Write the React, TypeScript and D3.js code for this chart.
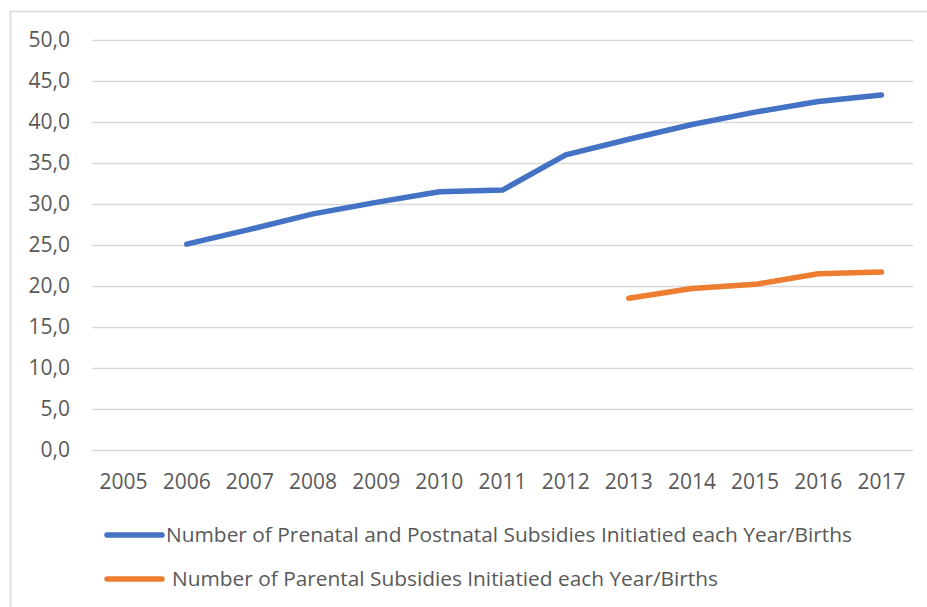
import React, { useEffect, useRef } from "react";
import * as d3 from "d3";

// chart data
const YEARS = ["2005", "2006", "2007", "2008", "2009", "2010", "2011", "2012", "2013", "2014", "2015", "2016", "2017"];
const PRENATAL: (number | null)[] = [null, 25.1, 26.9, 28.8, 30.2, 31.5, 31.7, 36.0, 37.9, 39.7, 41.2, 42.5, 43.3];
const PARENTAL: (number | null)[] = [null, null, null, null, null, null, null, null, 18.5, 19.7, 20.2, 21.5, 21.7];
const Y_TICKS = [0, 5, 10, 15, 20, 25, 30, 35, 40, 45, 50];
const SERIES_NAMES = [
  "Number of Prenatal and Postnatal Subsidies Initiatied each Year/Births",
  "Number of Parental Subsidies Initiatied each Year/Births",
];

const W = 927;
const H = 607;
const FONT = "'Open Sans', 'DejaVu Sans', sans-serif";
const TEXT = "#595959";
const GRID = "#d9d9d9";
const COLORS = ["#4472C4", "#ED7D31"];

export default function App() {
  const ref = useRef<SVGSVGElement>(null);

  useEffect(() => {
    const svg = d3.select(ref.current);
    svg.selectAll("*").remove();

    const left = 92;
    const right = 913;
    const top = 40;
    const bottom = 450;

    // chart frame (only left and top edges visible in the picture)
    svg.append("line").attr("x1", 10.5).attr("x2", 10.5).attr("y1", 11).attr("y2", H)
      .attr("stroke", GRID).attr("stroke-width", 1.5);
    svg.append("line").attr("x1", 10).attr("x2", W).attr("y1", 11.5).attr("y2", 11.5)
      .attr("stroke", GRID).attr("stroke-width", 1.5);

    const x = d3.scaleBand<string>().domain(YEARS).range([left, right]);
    const y = d3.scaleLinear().domain([0, 50]).range([bottom, top]);
    const cx = (d: string) => (x(d) ?? 0) + x.bandwidth() / 2;

    // gridlines
    svg.append("g")
      .selectAll("line")
      .data(Y_TICKS)
      .join("line")
      .attr("x1", left)
      .attr("x2", right)
      .attr("y1", (d) => Math.round(y(d)) + 0.5)
      .attr("y2", (d) => Math.round(y(d)) + 0.5)
      .attr("stroke", GRID)
      .attr("stroke-width", 1.5);

    // y labels
    svg.append("g")
      .selectAll("text")
      .data(Y_TICKS)
      .join("text")
      .attr("x", 70)
      .attr("y", (d) => y(d))
      .attr("dy", "0.35em")
      .attr("text-anchor", "end")
      .attr("font-family", FONT)
      .attr("font-size", 21)
      .attr("fill", TEXT)
      .text((d) => d.toFixed(1).replace(".", ","));

    // x labels
    svg.append("g")
      .selectAll("text")
      .data(YEARS)
      .join("text")
      .attr("x", cx)
      .attr("y", 489)
      .attr("text-anchor", "middle")
      .attr("font-family", FONT)
      .attr("font-size", 21)
      .attr("fill", TEXT)
      .text((d) => d);

    // lines
    [PRENATAL, PARENTAL].forEach((vals, i) => {
      const pts = YEARS.map((yr, j) => ({ yr, v: vals[j] }));
      const line = d3.line<{ yr: string; v: number | null }>()
        .defined((d) => d.v !== null)
        .x((d) => cx(d.yr))
        .y((d) => y(d.v as number));
      svg.append("path")
        .datum(pts)
        .attr("d", line)
        .attr("fill", "none")
        .attr("stroke", COLORS[i])
        .attr("stroke-width", 5.5)
        .attr("stroke-linecap", "round")
        .attr("stroke-linejoin", "round");
    });

    // legend
    const legendY = [535, 579];
    const textX = [166, 172];
    const textLen = [686, 546];
    SERIES_NAMES.forEach((name, i) => {
      svg.append("line")
        .attr("x1", 107).attr("x2", 162)
        .attr("y1", legendY[i]).attr("y2", legendY[i])
        .attr("stroke", COLORS[i])
        .attr("stroke-width", 5.5)
        .attr("stroke-linecap", "round");
      svg.append("text")
        .attr("x", textX[i])
        .attr("y", legendY[i])
        .attr("dy", "0.35em")
        .attr("font-family", FONT)
        .attr("font-size", 20)
        .attr("fill", TEXT)
        .attr("textLength", textLen[i])
        .attr("lengthAdjust", "spacingAndGlyphs")
        .text(name);
    });
  }, []);

  return (
    <svg
      ref={ref}
      width={W}
      height={H}
      style={{ position: "absolute", left: 0, top: 0, background: "#fff" }}
    />
  );
}
